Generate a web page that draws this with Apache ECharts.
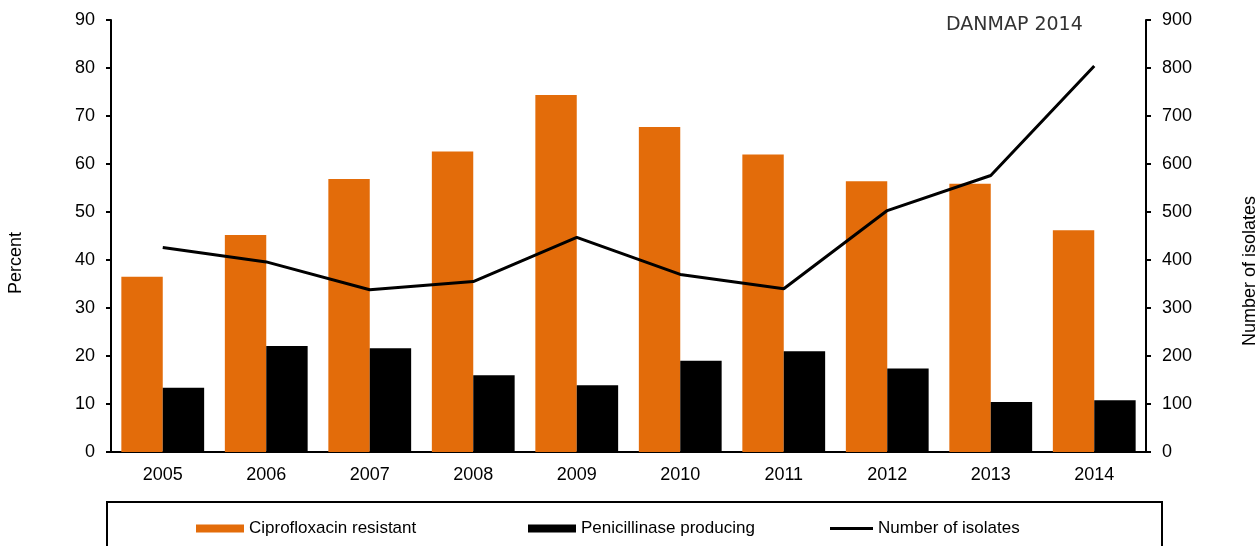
<!DOCTYPE html>
<html>
<head>
<meta charset="utf-8">
<script src="https://cdn.jsdelivr.net/npm/echarts@6/dist/echarts.min.js"></script>
<style>
  html, body { margin: 0; padding: 0; background: #fff; }
  #chart { width: 1258px; height: 546px; }
</style>
</head>
<body>
<div id="chart"></div>
<script>
const years = ['2005', '2006', '2007', '2008', '2009', '2010', '2011', '2012', '2013', '2014'];
const cipro = [36.5, 45.2, 56.9, 62.6, 74.4, 67.7, 62.0, 56.4, 55.9, 46.2];
const penicillinase = [13.4, 22.1, 21.6, 16.0, 13.9, 19.0, 21.0, 17.4, 10.4, 10.8];
const isolates = [426, 396, 338, 355, 447, 370, 340, 503, 576, 804];

const font = "'Liberation Sans', Arial, sans-serif";
const orange = '#E36C0A';

let chartDom = document.getElementById('chart');
let myChart = echarts.init(chartDom);
let option;

const axisCommon = {
    type: 'value',
    splitLine: { show: false },
    axisLine: { show: true, lineStyle: { color: '#000', width: 2 } },
    axisTick: { show: true, length: 5, lineStyle: { color: '#000', width: 2 } }
};

const legendText = { fontFamily: font, fontSize: 17, color: '#000' };

option = {
    animation: false,
    grid: { left: 111, right: 112, top: 20, bottom: 94, outerBoundsMode: 'none', containLabel: false },
    legend: [
        {
            left: 196, top: 520, padding: 0,
            itemWidth: 48, itemHeight: 8,
            textStyle: legendText,
            data: [{ name: 'Ciprofloxacin resistant', icon: 'rect' }]
        },
        {
            left: 528, top: 520, padding: 0,
            itemWidth: 48, itemHeight: 8,
            textStyle: legendText,
            data: [{ name: 'Penicillinase producing', icon: 'rect' }]
        },
        {
            left: 830, top: 520, padding: 0,
            itemWidth: 43, itemHeight: 3,
            textStyle: legendText,
            data: [{ name: 'Number of isolates', icon: 'rect' }]
        }
    ],
    xAxis: {
        type: 'category',
        data: years,
        axisLine: { lineStyle: { color: '#000', width: 2 } },
        axisTick: { show: false },
        axisLabel: { fontFamily: font, fontSize: 18, color: '#000', margin: 14 }
    },
    yAxis: [
        Object.assign({}, axisCommon, {
            min: 0, max: 90, interval: 10,
            position: 'left',
            axisLabel: { fontFamily: font, fontSize: 18, color: '#000', margin: 16 }
        }),
        Object.assign({}, axisCommon, {
            min: 0, max: 900, interval: 100,
            position: 'right',
            axisLabel: { fontFamily: font, fontSize: 18, color: '#000', margin: 16 }
        })
    ],
    graphic: [
        {
            type: 'text',
            x: 16, y: 263, rotation: Math.PI / 2,
            style: { text: 'Percent', font: "18px 'Liberation Sans', Arial, sans-serif", fill: '#000', align: 'center', verticalAlign: 'middle' }
        },
        {
            type: 'text',
            x: 1250, y: 271, rotation: Math.PI / 2,
            style: { text: 'Number of isolates', font: "18px 'Liberation Sans', Arial, sans-serif", fill: '#000', align: 'center', verticalAlign: 'middle' }
        },
        {
            type: 'text',
            left: 946, top: 16,
            style: { text: 'DANMAP 2014', font: "19px 'DejaVu Sans', Verdana, sans-serif", fill: '#333' }
        },
        {
            type: 'rect',
            shape: { x: 107, y: 502, width: 1055, height: 60 },
            style: { fill: 'none', stroke: '#000', lineWidth: 2 }
        }
    ],
    series: [
        {
            name: 'Ciprofloxacin resistant',
            type: 'bar',
            yAxisIndex: 0,
            data: cipro,
            barGap: '0%',
            barCategoryGap: '20%',
            itemStyle: { color: orange }
        },
        {
            name: 'Penicillinase producing',
            type: 'bar',
            yAxisIndex: 0,
            data: penicillinase,
            barGap: '0%',
            barCategoryGap: '20%',
            itemStyle: { color: '#000' }
        },
        {
            name: 'Number of isolates',
            type: 'line',
            yAxisIndex: 1,
            data: isolates,
            symbol: 'none',
            lineStyle: { color: '#000', width: 3 },
            itemStyle: { color: '#000' }
        }
    ]
};

option && myChart.setOption(option);
</script>
</body>
</html>
